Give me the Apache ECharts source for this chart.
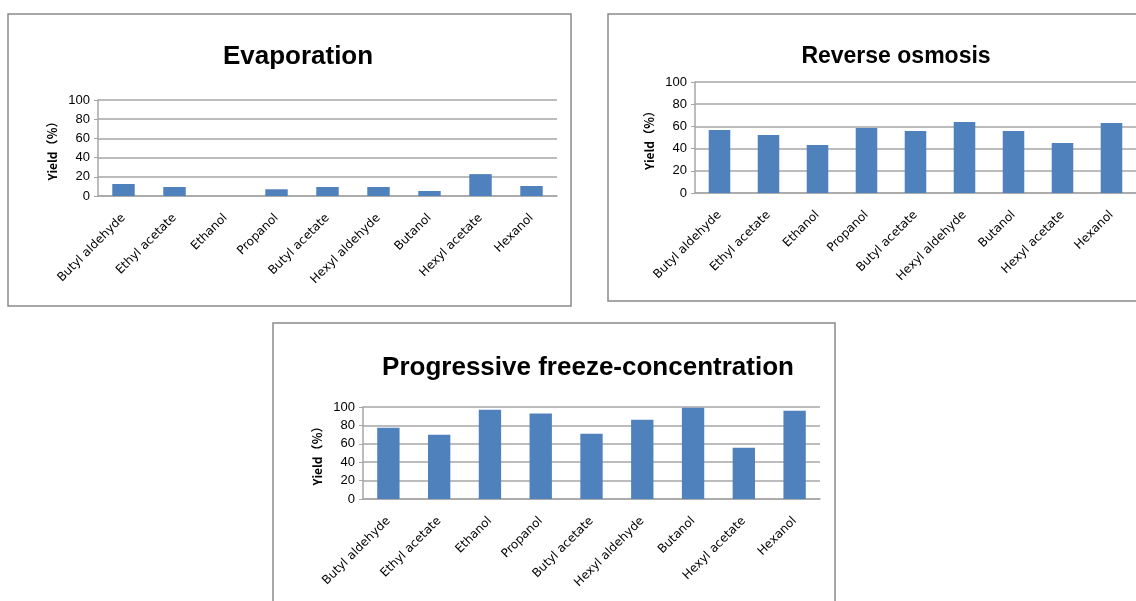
<!DOCTYPE html>
<html>
<head>
<meta charset="utf-8">
<script src="https://cdn.jsdelivr.net/npm/echarts@6/dist/echarts.min.js"></script>
<style>
  html, body { margin: 0; padding: 0; background: #fff; overflow: hidden; }
  #chart { width: 1136px; height: 601px; }
</style>
</head>
<body>
<div id="chart"></div>
<script>
// Aroma compounds recovered by each concentration method
const compounds = ['Butyl aldehyde', 'Ethyl acetate', 'Ethanol', 'Propanol', 'Butyl acetate',
                   'Hexyl aldehyde', 'Butanol', 'Hexyl acetate', 'Hexanol'];

// Yield (%) per compound
const evaporationYield = [12.5, 9.4, 0, 7, 9.4, 9.4, 5.2, 22.8, 10.4];
const reverseOsmosisYield = [56.8, 52.3, 43.2, 58.6, 55.9, 64, 55.9, 45, 63.1];
const freezeConcYield = [77.5, 69.9, 97.1, 92.8, 71, 86.2, 99.3, 55.8, 96];

const panelTitles = ['Evaporation', 'Reverse osmosis', 'Progressive freeze-concentration'];
const yAxisName = 'Yield（％）';
const yTicks = { min: 0, max: 100, interval: 20 };

const BAR = '#4F81BD';
const GRID_LINE = '#a6a6a6';
const FRAME = '#8a8a8a';

// Panel frames, title placement and plot rectangles
const panels = [
  { frame: [8, 14, 563, 292],  title: [298, 57], titleSize: 26, grid: { left: 98, top: 100, width: 459, height: 96 } },
  { frame: [608, 14, 600, 287], title: [896, 57], titleSize: 23, grid: { left: 695, top: 82, width: 443, height: 111 } },
  { frame: [273, 323, 562, 320], title: [588, 368], titleSize: 26, grid: { left: 363, top: 407, width: 457, height: 92 } }
];
const seriesData = [evaporationYield, reverseOsmosisYield, freezeConcYield];

const chart = echarts.init(document.getElementById('chart'), null, { renderer: 'canvas' });

const graphic = [];
panels.forEach((p, i) => {
  graphic.push({
    type: 'rect', z: -10, silent: true,
    shape: { x: p.frame[0], y: p.frame[1], width: p.frame[2], height: p.frame[3] },
    style: { fill: '#fff', stroke: FRAME, lineWidth: 1.5 }
  });
  graphic.push({
    type: 'text', silent: true,
    x: p.title[0], y: p.title[1],
    style: {
      text: panelTitles[i],
      align: 'center', verticalAlign: 'middle',
      fontFamily: '"Liberation Sans", Arial, sans-serif',
      fontWeight: 'bold', fontSize: p.titleSize, fill: '#000'
    }
  });
});

const option = {
  backgroundColor: '#fff',
  animation: false,
  graphic: graphic,
  grid: panels.map(p => Object.assign({ containLabel: false }, p.grid)),
  xAxis: panels.map((p, i) => ({
    type: 'category',
    gridIndex: i,
    data: compounds,
    axisLine: { show: true, lineStyle: { color: GRID_LINE, width: 1.5 } },
    axisTick: { show: false },
    axisLabel: {
      interval: 0, rotate: 45, margin: 20,
      fontFamily: '"DejaVu Sans", sans-serif', fontSize: 12, color: '#000'
    }
  })),
  yAxis: panels.map((p, i) => ({
    type: 'value',
    gridIndex: i,
    min: yTicks.min, max: yTicks.max, interval: yTicks.interval,
    name: yAxisName,
    nameLocation: 'middle',
    nameGap: 40,
    nameTextStyle: {
      fontFamily: '"Noto Sans CJK JP", sans-serif',
      fontWeight: 'bold', fontSize: 12, color: '#000'
    },
    axisLine: { show: true, lineStyle: { color: GRID_LINE, width: 1.5 } },
    axisTick: { show: true, length: 4, lineStyle: { color: GRID_LINE } },
    splitLine: { show: true, lineStyle: { color: GRID_LINE, width: 1.5 } },
    axisLabel: {
      margin: 8,
      fontFamily: '"Liberation Sans", Arial, sans-serif', fontSize: 13, color: '#000'
    }
  })),
  series: seriesData.map((d, i) => ({
    type: 'bar',
    xAxisIndex: i, yAxisIndex: i,
    data: d,
    barWidth: '44%',
    itemStyle: { color: BAR }
  }))
};

chart.setOption(option);
</script>
</body>
</html>
